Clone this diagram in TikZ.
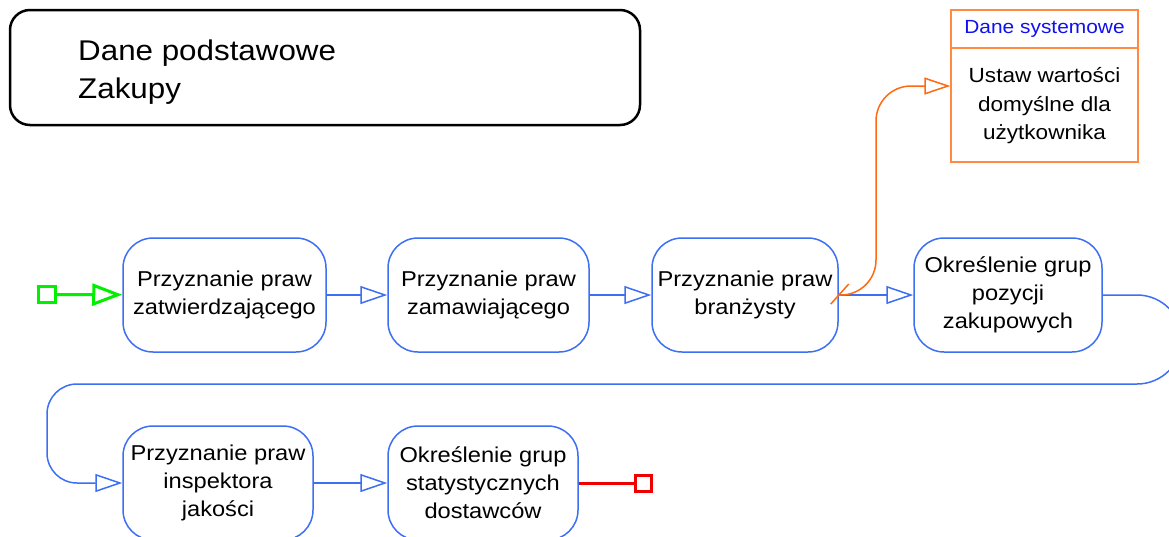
\documentclass[tikz,border=0pt]{standalone}
\usepackage{fontspec}
\setmainfont[FakeStretch=1.1]{Liberation Sans}
\usepackage{tikz}
\usetikzlibrary{arrows.meta}
\definecolor{pblue}{HTML}{3D6FF5}
\definecolor{porange}{HTML}{FF6A10}
\definecolor{porangel}{HTML}{FF8A40}
\definecolor{pgreen}{HTML}{00F000}
\definecolor{pred}{HTML}{F00000}
\definecolor{ptitle}{HTML}{1010F0}
\newcommand\stepfont{\fontsize{21.5}{28}\selectfont}
\newcommand\headfont{\fontsize{28.5}{38}\selectfont}
\tikzset{
  % process step: rounded blue box
  proc/.style    = {rectangle, rounded corners=30pt, draw=pblue, line width=1.5pt,
                    minimum width=#1, minimum height=114pt, align=center,
                    inner sep=0pt, font=\stepfont},
  proc/.default  = 190pt,
  flow/.style    = {draw=pblue, line width=1.5pt,
                    -{Triangle[open, length=27pt, width=18pt, fill=white]}},
  start/.style   = {draw=pgreen, line width=3pt, minimum width=17pt, minimum height=16pt,
                    inner sep=0pt},
  stop/.style    = {draw=pred, line width=3pt, minimum width=16pt, minimum height=16pt,
                    inner sep=0pt},
  sysbox/.style  = {draw=porangel, line width=1.2pt, minimum width=187pt,
                    minimum height=152pt, inner sep=0pt},
  link/.style    = {draw=porange, line width=1.5pt, rounded corners=35pt,
                    -{Triangle[open, length=26pt, width=17pt, fill=white]}},
}

\begin{document}
\begin{tikzpicture}[x=1pt,y=-1pt]
\useasboundingbox (0,0) rectangle (1169,536);
% header
\node[draw, line width=2.5pt, rounded corners=20pt, minimum width=630pt,
      minimum height=115pt] (hdr) at (325,67.5) {};
\node[anchor=west, align=left, font=\headfont, inner sep=0pt] (hdrtxt) at (78,72)
  {Dane podstawowe\\Zakupy};
% system data
\node[sysbox] (sys) at (1044.5,86) {};
\draw[porangel, line width=1.2pt] (sys.west |- 0,48) -- (sys.east |- 0,48);
\node[font=\fontsize{19}{24}\selectfont, text=ptitle] (syshead) at (1044.5,29)
  {Dane systemowe};
\node[font=\fontsize{20.5}{28.5}\selectfont, align=center] (sysbody) at (1044.5,106)
  {Ustaw wartości\\domyślne dla\\użytkownika};
% steps
\node[proc=203pt] (zatw) at (224.5,295) {Przyznanie praw\\zatwierdzającego};
\node[proc=201pt] (zam)  at (488.5,295) {Przyznanie praw\\zamawiającego};
\node[proc=186pt] (bran) at (745,295)   {Przyznanie praw\\branżysty};
\node[proc=188pt] (grp)  at (1008,295)  {Określenie grup\\pozycji\\zakupowych};
\node[proc]       (insp) at (218,483)   {Przyznanie praw\\inspektora\\jakości};
\node[proc]       (stat) at (483,483)   {Określenie grup\\statystycznych\\dostawców~};
% start / end
\node[start] (begin) at (47,294.5) {};
\node[stop]  (end)   at (643.5,483) {};
% arrows
\draw[draw=pgreen, line width=3pt,
      -{Triangle[open, length=30pt, width=22pt, fill=white]}] (begin) -- (zatw);
\draw[flow] (zatw) -- (zam);
\draw[flow] (zam) -- (bran);
\draw[flow] (bran) -- (grp);
\draw[flow] (grp.east) [rounded corners=45pt] -- (1182,295) -- (1182,384)
  [rounded corners=30pt] -- (47,384) -- (47,483) -- (insp.west);
\draw[flow] (insp) -- (stat);
\draw[draw=pred, line width=3pt] (stat) -- (end);
% link to system data
\draw[link] (bran.east) -- (876,295) -- (876,86) -- (sys.west);
\draw[porange, line width=1.5pt] ([shift={(-8,9)}]bran.east) -- ([shift={(10,-11)}]bran.east);
\end{tikzpicture}
\end{document}
